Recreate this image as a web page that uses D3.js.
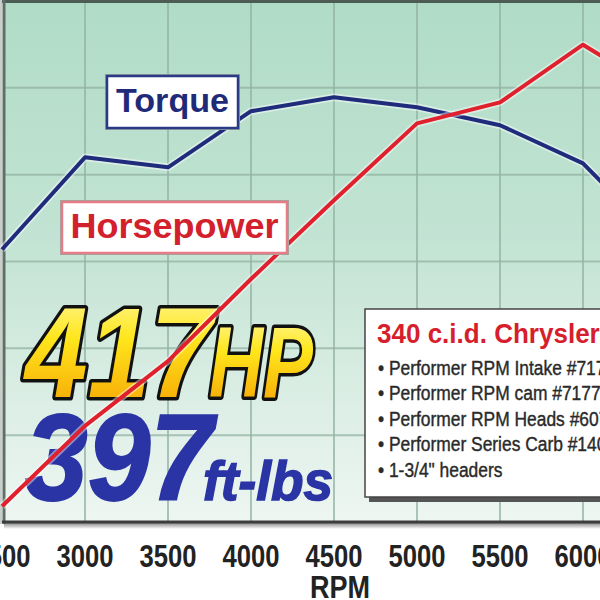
<!DOCTYPE html>
<html><head><meta charset="utf-8">
<script src="https://cdn.jsdelivr.net/npm/d3@7"></script>
<style>html,body{margin:0;padding:0;background:#fff;}svg{display:block;}</style>
</head><body>
<script>
// ---- data ----
const rpm = [2500, 3000, 3500, 4000, 4500, 5000, 5500, 6000, 6500];
const torque = [321, 367, 362, 390, 397, 392, 383, 364, 322];
const horsepower = [153, 199, 236, 283, 328, 372, 384, 417, 388];
const tickRpm = [2500, 3000, 3500, 4000, 4500, 5000, 5500, 6000];
const gridRows = [1, 2, 3, 4, 5];
const specTitle = "340 c.i.d. Chrysler V8";
const specItems = ["Performer RPM Intake #7176", "Performer RPM cam #7177", "Performer RPM Heads #60779", "Performer Series Carb #1406", "1-3/4\" headers"];

const W = 600, H = 600;
const pTop = 1, pBottom = 522, pLeft = 4;
const SANS = "'Liberation Sans',Arial,sans-serif";

const x = d3.scaleLinear().domain([2500, 6000]).range([2, 583]);
const yT = d3.scaleLinear().domain([185, 445]).range([pBottom, pTop]);
const yH = d3.scaleLinear().domain([144, 442]).range([pBottom, pTop]);
const yGrid = d3.scaleLinear().domain([0, 6]).range([pBottom, pTop]);

const svg = d3.select("body").append("svg").attr("width", W).attr("height", H);
const defs = svg.append("defs");
const bg = defs.append("linearGradient").attr("id", "bg").attr("x1", 0).attr("y1", 0).attr("x2", 0).attr("y2", 1);
bg.append("stop").attr("offset", "0%").attr("stop-color", "#b0dcc6");
bg.append("stop").attr("offset", "45%").attr("stop-color", "#c2e3d3");
bg.append("stop").attr("offset", "100%").attr("stop-color", "#eef6f2");
const gold = defs.append("linearGradient").attr("id", "gold").attr("x1", 0).attr("y1", 0).attr("x2", 0).attr("y2", 1);
gold.append("stop").attr("offset", "0%").attr("stop-color", "#fffbb0");
gold.append("stop").attr("offset", "40%").attr("stop-color", "#ffe61c");
gold.append("stop").attr("offset", "100%").attr("stop-color", "#f59a00");
const sh = defs.append("linearGradient").attr("id", "shadow").attr("x1", 0).attr("y1", 0).attr("x2", 0).attr("y2", 1);
sh.append("stop").attr("offset", "0%").attr("stop-color", "#777");
sh.append("stop").attr("offset", "100%").attr("stop-color", "#fff");

// plot frame shadow + background
svg.append("rect").attr("x", pLeft).attr("y", pBottom).attr("width", W).attr("height", 7).attr("fill", "url(#shadow)");
svg.append("rect").attr("x", pLeft).attr("y", pTop).attr("width", W).attr("height", pBottom - pTop).attr("fill", "url(#bg)");

// grid
const g = svg.append("g");
g.selectAll("line.v").data(tickRpm.slice(1).concat([6500])).join("line")
  .attr("x1", d => x(d)).attr("x2", d => x(d)).attr("y1", pTop).attr("y2", pBottom)
  .attr("stroke", "#93b3a3").attr("stroke-width", 2).attr("opacity", 0.75);
g.selectAll("line.h").data(gridRows).join("line")
  .attr("x1", pLeft).attr("x2", W).attr("y1", d => yGrid(d)).attr("y2", d => yGrid(d))
  .attr("stroke", "#93b3a3").attr("stroke-width", 2).attr("opacity", 0.75);

// frame borders
svg.append("line").attr("x1", 0).attr("x2", W).attr("y1", 1.5).attr("y2", 1.5).attr("stroke", "#4c5d55").attr("stroke-width", 3);
svg.append("line").attr("x1", 4).attr("x2", 4).attr("y1", 0).attr("y2", pBottom + 2).attr("stroke", "#5f6e67").attr("stroke-width", 3);
svg.append("line").attr("x1", 1).attr("x2", 1).attr("y1", 0).attr("y2", pBottom + 2).attr("stroke", "#c8cfcb").attr("stroke-width", 2);
svg.append("line").attr("x1", 2).attr("x2", W).attr("y1", pBottom).attr("y2", pBottom).attr("stroke", "#3d3d3d").attr("stroke-width", 3);

// big headline numbers
const hp = svg.append("g");
hp.append("text").text("417").attr("x", 25).attr("y", 397)
  .attr("font-family", SANS).attr("font-weight", 900).attr("font-style", "italic")
  .attr("font-size", 128).attr("textLength", 188).attr("lengthAdjust", "spacingAndGlyphs")
  .attr("fill", "url(#gold)").attr("stroke", "#111").attr("stroke-width", 7)
  .attr("stroke-linejoin", "round").attr("paint-order", "stroke");
hp.append("text").text("HP").attr("x", 209).attr("y", 397)
  .attr("font-family", SANS).attr("font-weight", 900).attr("font-style", "italic")
  .attr("font-size", 100).attr("textLength", 104).attr("lengthAdjust", "spacingAndGlyphs")
  .attr("fill", "url(#gold)").attr("stroke", "#111").attr("stroke-width", 7)
  .attr("stroke-linejoin", "round").attr("paint-order", "stroke");
hp.append("text").text("397").attr("x", 25).attr("y", 500)
  .attr("font-family", SANS).attr("font-weight", 900).attr("font-style", "italic")
  .attr("font-size", 123).attr("textLength", 188).attr("lengthAdjust", "spacingAndGlyphs")
  .attr("fill", "#2a34a4").attr("stroke", "#2a34a4").attr("stroke-width", 2);
hp.append("text").text("ft-lbs").attr("x", 203).attr("y", 500)
  .attr("font-family", SANS).attr("font-weight", 700).attr("font-style", "italic")
  .attr("font-size", 55).attr("textLength", 130).attr("lengthAdjust", "spacingAndGlyphs")
  .attr("fill", "#2a34a4").attr("stroke", "#2a34a4").attr("stroke-width", 1.5);

// lines
const lineT = d3.line().x((d, i) => x(rpm[i])).y(d => yT(d));
const lineH = d3.line().x((d, i) => x(rpm[i])).y(d => yH(d));
[[torque, lineT, "#1f2c7c"], [horsepower, lineH, "#e0202c"]].forEach(([vals, gen, col]) => {
  svg.append("path").attr("d", gen(vals)).attr("fill", "none").attr("stroke", "#ffffff")
    .attr("stroke-opacity", 0.45).attr("stroke-width", 7.5).attr("stroke-linejoin", "round");
  svg.append("path").attr("d", gen(vals)).attr("fill", "none").attr("stroke", col)
    .attr("stroke-width", 4).attr("stroke-linejoin", "round");
});

// series labels
function labelBox(x0, y0, w, h, txt, border, col, size, base, tl) {
  svg.append("rect").attr("x", x0 - 1.5).attr("y", y0 - 1.5).attr("width", w + 3).attr("height", h + 3)
    .attr("fill", "none").attr("stroke", "#9aa8a2").attr("stroke-width", 1);
  svg.append("rect").attr("x", x0).attr("y", y0).attr("width", w).attr("height", h)
    .attr("fill", "#fff").attr("stroke", border).attr("stroke-width", 2.5);
  svg.append("text").text(txt).attr("x", x0 + w / 2).attr("y", base).attr("text-anchor", "middle")
    .attr("font-family", SANS).attr("font-weight", 700).attr("font-size", size).attr("fill", col)
    .attr("textLength", tl).attr("lengthAdjust", "spacingAndGlyphs");
}
labelBox(107, 76, 131, 52, "Torque", "#2b3a86", "#1f2a78", 33, 112, 113);
labelBox(62, 202, 225, 51, "Horsepower", "#e57c86", "#d2202c", 35, 238, 208);

// spec box
svg.append("rect").attr("x", 369).attr("y", 313).attr("width", 300).attr("height", 189).attr("fill", "#555");
svg.append("rect").attr("x", 365).attr("y", 309).attr("width", 300).attr("height", 188)
  .attr("fill", "#fff").attr("stroke", "#444").attr("stroke-width", 1.5);
svg.append("g").attr("transform", "translate(377,343) scale(0.93,1)")
  .append("text").text(specTitle).attr("x", 0).attr("y", 0)
  .attr("font-family", SANS).attr("font-weight", 700).attr("font-size", 28).attr("fill", "#d61e2c");
const items = svg.append("g").attr("transform", "translate(378,0) scale(0.87,1)");
items.selectAll("text").data(specItems).join("text")
  .attr("x", 0).attr("y", (d, i) => 375 + i * 25.5)
  .attr("font-family", SANS).attr("font-size", 20).attr("fill", "#2a2a2a")
  .attr("stroke", "#2a2a2a").attr("stroke-width", 0.4)
  .text(d => "• " + d);

// x axis labels
svg.append("g").selectAll("text").data(tickRpm).join("text")
  .attr("x", d => x(d) - 28.5).attr("y", 567)
  .attr("textLength", 57).attr("lengthAdjust", "spacingAndGlyphs")
  .attr("font-family", SANS).attr("font-weight", 700).attr("font-size", 32).attr("fill", "#222")
  .text(d => d);
svg.append("text").text("RPM").attr("x", 310).attr("y", 598)
  .attr("textLength", 60).attr("lengthAdjust", "spacingAndGlyphs")
  .attr("font-family", SANS).attr("font-weight", 700).attr("font-size", 32).attr("fill", "#222");
</script>
</body></html>
